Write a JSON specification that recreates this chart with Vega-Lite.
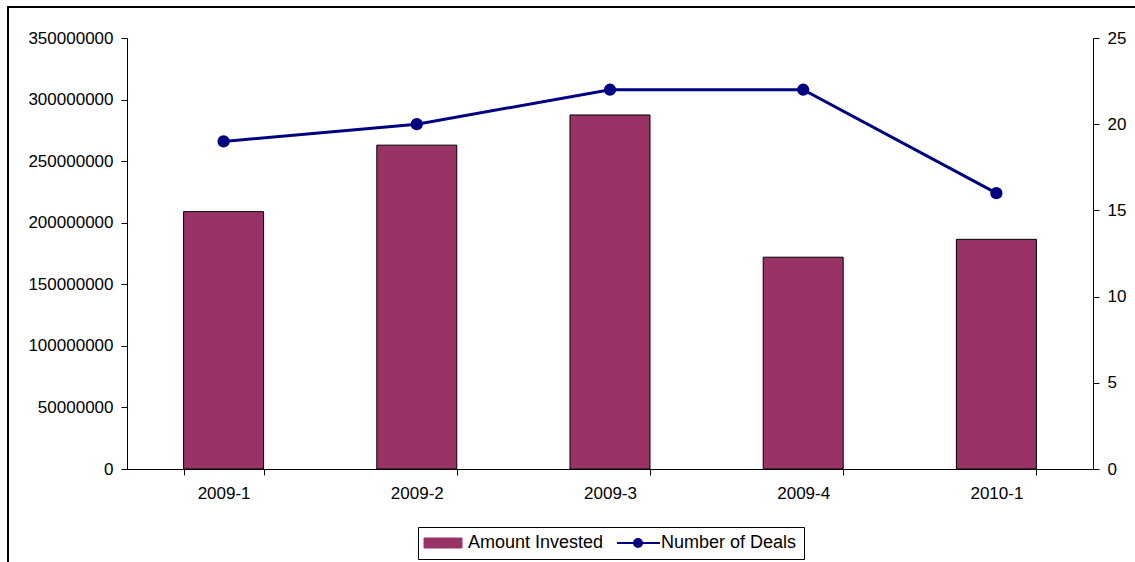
{
  "$schema": "https://vega.github.io/schema/vega-lite/v6.json",
  "width": 1140,
  "height": 570,
  "autosize": {"type": "none"},
  "padding": {"left": 8, "top": 7, "right": 0, "bottom": 0},
  "background": "white",
  "config": {
    "view": {"stroke": "black", "strokeWidth": 2},
    "font": "Liberation Sans",
    "axis": {"labelFont": "Liberation Sans", "labelFontSize": 17, "labelColor": "black", "domainColor": "black", "tickColor": "black", "grid": false, "title": null, "tickSize": 6},
    "legend": {
      "symbolType": {"expr": "datum.value === 'Amount Invested' ? 'M-1,-0.5H2.8V0.5H-1Z' : 'M-1,0H3.3M0.7,0A0.4,0.4 0 1,1 1.5,0A0.4,0.4 0 1,1 0.7,0'"},
      "symbolFillColor": {"expr": "datum.value === 'Amount Invested' ? '#993366' : '#000080'"},
      "symbolStrokeColor": {"expr": "datum.value === 'Amount Invested' ? 'black' : '#000080'"},
      "symbolStrokeWidth": {"expr": "datum.value === 'Amount Invested' ? 1 : 2"},
      "symbolOpacity": 1
    }
  },
  "data": {"values": [
    {"quarter": "2009-1", "amount": 209000000, "deals": 19},
    {"quarter": "2009-2", "amount": 263000000, "deals": 20},
    {"quarter": "2009-3", "amount": 287500000, "deals": 22},
    {"quarter": "2009-4", "amount": 172000000, "deals": 22},
    {"quarter": "2010-1", "amount": 186500000, "deals": 16}
  ]},
  "encoding": {
    "x": {
      "field": "quarter", "type": "ordinal",
      "scale": {"range": [119, 1085], "paddingInner": 0.586, "paddingOuter": 0.293},
      "axis": {"orient": "bottom", "offset": -108, "labelAngle": 0, "labelPadding": 10, "tickBand": "extent", "title": null}
    }
  },
  "layer": [
    {
      "mark": {"type": "bar", "stroke": "black", "strokeWidth": 1},
      "encoding": {
        "y": {
          "field": "amount", "type": "quantitative",
          "scale": {"domain": [0, 350000000], "range": [462, 31], "nice": false},
          "axis": {"orient": "left", "offset": -119, "format": "d", "values": [0, 50000000, 100000000, 150000000, 200000000, 250000000, 300000000, 350000000], "labelPadding": 8, "title": null,
            "encode": {"ticks": {"update": {"x": {"value": 6}}}}}
        },
        "color": {
          "datum": "Amount Invested", "type": "nominal",
          "scale": {"domain": ["Amount Invested", "Number of Deals"], "range": ["#993366", "#000080"]},
          "legend": {
            "orient": "none", "legendX": 410, "legendY": 520, "direction": "horizontal",
            "title": null, "strokeColor": "black", "fillColor": "white", "padding": 7,
            "labelFontSize": 18, "labelColor": "black", "labelFont": "Liberation Sans",
            "symbolSize": 400, "labelOffset": 25, "columnPadding": 9
          }
        }
      }
    },
    {
      "mark": {"type": "line", "strokeWidth": 3, "point": {"filled": true, "size": 150, "opacity": 1}},
      "encoding": {
        "y": {
          "field": "deals", "type": "quantitative",
          "scale": {"domain": [0, 25], "range": [462, 31], "nice": false},
          "axis": {"orient": "right", "offset": -55, "values": [0, 5, 10, 15, 20, 25], "labelPadding": 8, "title": null,
            "encode": {"ticks": {"update": {"x": {"value": -6}}}}}
        },
        "color": {"datum": "Number of Deals", "type": "nominal"}
      }
    }
  ],
  "resolve": {"scale": {"y": "independent"}}
}
